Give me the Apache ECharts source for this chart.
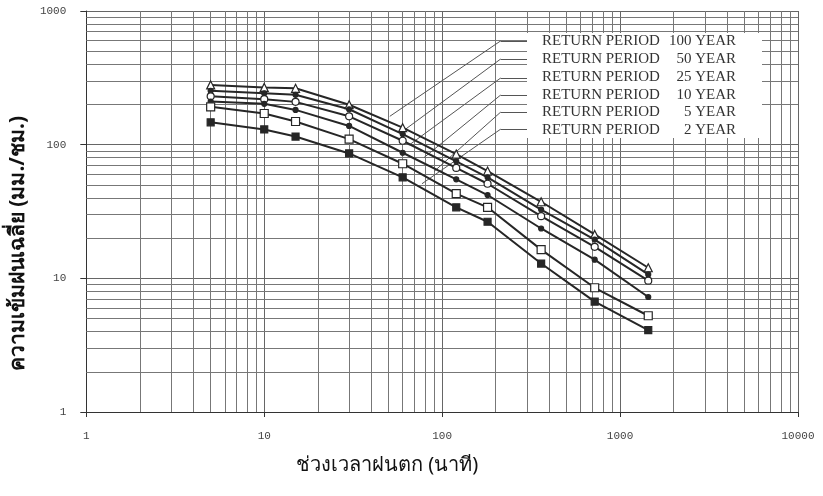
<!DOCTYPE html>
<html>
<head>
<meta charset="utf-8">
<script src="https://cdn.jsdelivr.net/npm/echarts@6/dist/echarts.min.js"></script>
<style>
  html, body { margin: 0; padding: 0; background: #fff; }
  #chart { width: 823px; height: 496px; }
</style>
</head>
<body>
<div id="chart"></div>
<script>
// ช่วงเวลาฝนตก (นาที)
var durations = [5, 10, 15, 30, 60, 120, 180, 360, 720, 1440];
// ความเข้มฝนเฉลี่ย (มม./ชม.) ตามรอบปีการเกิดซ้ำ
var rp100 = [280, 268, 264, 199, 134, 85, 63.5, 37.4, 21.3, 12.0];
var rp50 = [253, 242, 236, 184, 120, 75, 57, 32.7, 19.5, 10.7];
var rp25 = [230, 219, 209, 163, 107, 67, 51, 29.2, 17.2, 9.6];
var rp10 = [210, 202, 182, 138, 87, 55, 42, 23.6, 13.8, 7.25];
var rp5 = [192, 171, 149, 110, 72, 43, 34, 16.4, 8.5, 5.25];
var rp2 = [147, 130, 115, 86, 57, 34, 26.5, 12.9, 6.7, 4.1];

var legendLabels = ['RETURN PERIOD 100 YEAR', 'RETURN PERIOD 50 YEAR', 'RETURN PERIOD 25 YEAR',
  'RETURN PERIOD 10 YEAR', 'RETURN PERIOD 5 YEAR', 'RETURN PERIOD 2 YEAR'];
var yearLabels = ['100 YEAR', '50 YEAR', '25 YEAR', '10 YEAR', '5 YEAR', '2 YEAR'];

// ปลายเส้นชี้ (ค่าบนแกน) และแถวคำอธิบาย
var leaderEndX = [50.8, 61, 65, 79, 90, 77];
var leaderEndY = [163, 128, 99, 80, 63, 51];
var leaderRowY = [597, 437, 315, 235, 175, 130.5];
var leaderCornerX = 213;
var leaderBoxX = 318;

var chart = echarts.init(document.getElementById('chart'), null, { renderer: 'canvas' });

function pairs(ys) {
  return durations.map(function (x, i) { return [x, ys[i]]; });
}

// เส้นกริดย่อยแบบกระดาษล็อก
var minorX = [], minorY = [];
[1, 10, 100, 1000].forEach(function (d) {
  for (var k = 2; k <= 9; k++) {
    minorX.push({ xAxis: d * k });
    if (d < 1000) minorY.push({ yAxis: d * k });
  }
});

function leader(i) {
  return {
    silent: true,
    symbol: 'none',
    label: { show: false },
    lineStyle: { color: '#555', width: 1, type: 'solid' },
    data: [
      [{ coord: [leaderEndX[i], leaderEndY[i]] }, { coord: [leaderCornerX, leaderRowY[i]] }],
      [{ coord: [leaderCornerX, leaderRowY[i]] }, { coord: [leaderBoxX, leaderRowY[i]] }]
    ]
  };
}

var lineColor = '#262626';
function makeSeries(name, ys, symbol, size, filled, idx) {
  return {
    name: name,
    type: 'line',
    data: pairs(ys),
    symbol: symbol,
    symbolSize: size,
    showAllSymbol: true,
    lineStyle: { color: lineColor, width: 2 },
    itemStyle: { color: filled ? lineColor : '#fff', borderColor: lineColor, borderWidth: 1.2 },
    z: 5,
    markLine: leader(idx)
  };
}

function plainNum(v) { return String(Math.round(v)); }

var option = {
  backgroundColor: '#fff',
  animation: false,
  grid: { left: 84, right: 25, top: 11, bottom: 84 },
  xAxis: {
    type: 'log',
    logBase: 10,
    min: 1,
    max: 10000,
    axisLine: { show: true, lineStyle: { color: '#333', width: 1 } },
    axisTick: { show: true, length: 5, lineStyle: { color: '#333' } },
    axisLabel: { color: '#444', fontFamily: 'Liberation Mono', fontSize: 11, margin: 19, formatter: plainNum },
    splitLine: { show: true, lineStyle: { color: '#666', width: 1 } },
    name: 'ช่วงเวลาฝนตก (นาที)',
    nameLocation: 'middle',
    nameGap: 43,
    nameTextStyle: { color: '#111', fontSize: 20, padding: [0, 110, 0, 0], fontFamily: 'Noto Sans, DejaVu Sans, sans-serif' }
  },
  yAxis: {
    type: 'log',
    logBase: 10,
    min: 1,
    max: 1000,
    axisLine: { show: true, lineStyle: { color: '#333', width: 1 } },
    axisTick: { show: true, length: 6, lineStyle: { color: '#333' } },
    axisLabel: { color: '#444', fontFamily: 'Liberation Mono', fontSize: 11, margin: 20, formatter: plainNum },
    splitLine: { show: true, lineStyle: { color: '#666', width: 1 } },
    name: 'ความเข้มฝนเฉลี่ย (มม./ชม.)',
    nameLocation: 'middle',
    nameGap: 48,
    nameRotate: 90,
    nameTextStyle: { color: '#111', fontSize: 21, fontWeight: 'bold', padding: [0, 64, 0, 0], fontFamily: 'Noto Sans, DejaVu Sans, sans-serif' }
  },
  series: [
    {
      name: 'grid-minor',
      type: 'line',
      data: [],
      silent: true,
      z: 1,
      markLine: {
        silent: true,
        symbol: 'none',
        label: { show: false },
        lineStyle: { color: '#777', width: 1, type: 'solid' },
        data: minorX.concat(minorY)
      }
    },
    makeSeries(legendLabels[0], rp100, 'triangle', 8, false, 0),
    makeSeries(legendLabels[1], rp50, 'circle', 5, true, 1),
    makeSeries(legendLabels[2], rp25, 'circle', 7, false, 2),
    makeSeries(legendLabels[3], rp10, 'circle', 5, true, 3),
    makeSeries(legendLabels[4], rp5, 'rect', 8, false, 4),
    makeSeries(legendLabels[5], rp2, 'rect', 7, true, 5)
  ],
  graphic: [
    {
      type: 'rect',
      left: 527, top: 33,
      shape: { width: 235, height: 105 },
      style: { fill: '#fff' },
      z: 10
    }
  ].concat(legendLabels.map(function (t, i) {
    return {
      type: 'text',
      left: 542,
      top: 34 + i * 17.7,
      z: 11,
      style: { text: 'RETURN PERIOD', fill: '#333', font: '15px "Liberation Serif", serif' }
    };
  })).concat(yearLabels.map(function (t, i) {
    return {
      type: 'text',
      right: 823 - 736,
      top: 34 + i * 17.7,
      z: 11,
      style: { text: t, fill: '#333', font: '15px "Liberation Serif", serif', textAlign: 'right' }
    };
  }))
};

chart.setOption(option);
</script>
</body>
</html>
